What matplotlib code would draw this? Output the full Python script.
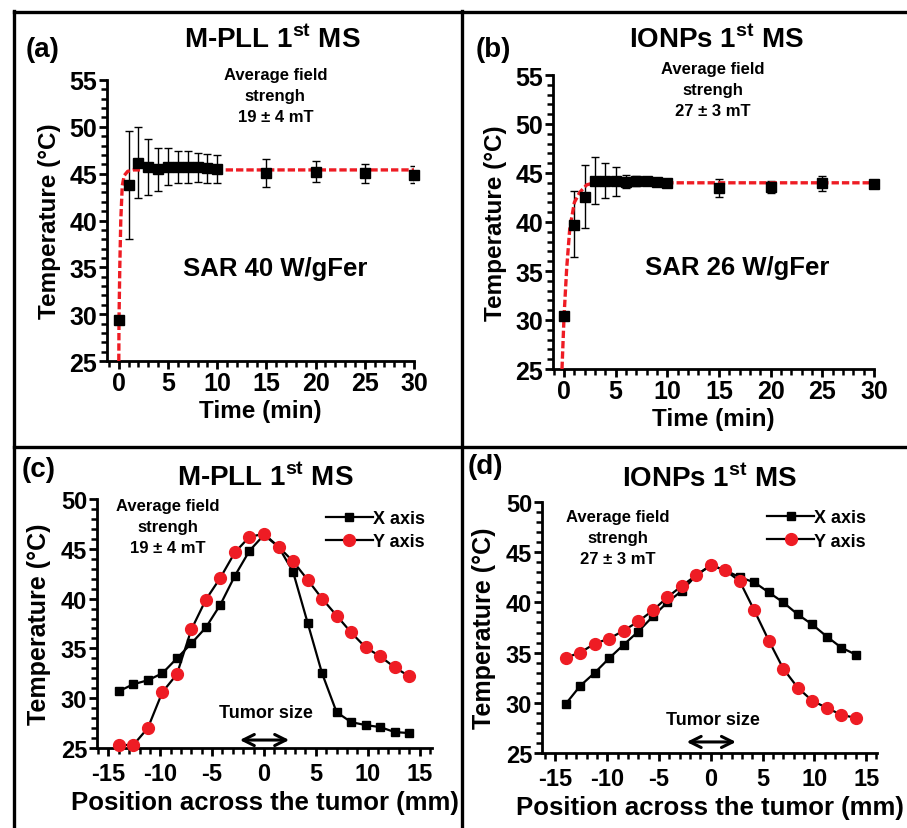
import matplotlib
matplotlib.use("Agg")
import matplotlib.pyplot as plt
from matplotlib.lines import Line2D
from matplotlib.ticker import MultipleLocator

plt.rcParams['font.family'] = ['Liberation Sans', 'DejaVu Sans']
plt.rcParams['font.weight'] = 'bold'
plt.rcParams['axes.unicode_minus'] = False
plt.rcParams['mathtext.fontset'] = 'custom'
plt.rcParams['mathtext.rm'] = 'Liberation Sans:bold'
plt.rcParams['mathtext.bf'] = 'Liberation Sans:bold'

# ---- data ----
time_min = [0, 1, 2, 3, 4, 5, 6, 7, 8, 9, 10, 15, 20, 25, 30]

mpll_temp = [29.4, 43.8, 46.1, 45.7, 45.45, 45.7, 45.7, 45.7, 45.7, 45.6, 45.5, 45.1, 45.2, 45.1, 44.9]
mpll_err_hi = [0.3, 5.8, 3.9, 3.0, 2.25, 2.0, 1.7, 1.7, 1.5, 1.5, 1.5, 1.5, 1.2, 0.9, 0.9]
mpll_err_lo = [0.3, 5.8, 3.7, 3.0, 2.35, 1.9, 1.7, 1.7, 1.6, 1.6, 1.5, 1.5, 1.1, 1.1, 0.9]
mpll_fit_t = [0.0, 0.02, 0.1, 0.2, 0.35, 0.55, 0.9, 1.5, 30]
mpll_fit_T = [25.0, 29.4, 35.0, 40.0, 43.7, 44.8, 45.25, 45.4, 45.4]

ionp_temp = [30.4, 39.7, 42.6, 44.2, 44.2, 44.2, 44.1, 44.2, 44.2, 44.1, 44.0, 43.5, 43.6, 44.0, 43.9]
ionp_err_hi = [0.3, 3.5, 3.2, 2.4, 1.8, 1.4, 0.7, 0.5, 0.4, 0.3, 0.3, 0.9, 0.6, 0.7, 0.3]
ionp_err_lo = [0.3, 3.3, 3.25, 2.4, 1.75, 1.5, 0.6, 0.5, 0.4, 0.3, 0.3, 0.9, 0.6, 0.8, 0.3]
ionp_fit_t = [-0.2, 0.0, 0.25, 0.55, 1.0, 1.5, 2.2, 3.0, 30]
ionp_fit_T = [25.0, 30.4, 35.2, 39.3, 42.0, 43.0, 43.8, 44.0, 44.0]

position_mm = [-14, -12.6, -11.2, -9.8, -8.4, -7.0, -5.6, -4.2, -2.8, -1.4, 0,
               1.4, 2.8, 4.2, 5.6, 7.0, 8.4, 9.8, 11.2, 12.6, 14]

mpll_x_axis = [30.7, 31.4, 31.8, 32.5, 34.0, 35.5, 37.1, 39.4, 42.3, 44.8, 46.4,
               45.2, 42.7, 37.6, 32.5, 28.6, 27.6, 27.3, 27.1, 26.6, 26.5]
mpll_y_axis = [25.3, 25.3, 27.0, 30.6, 32.4, 36.9, 39.9, 42.1, 44.65, 46.2, 46.5,
               45.2, 43.75, 41.9, 40.0, 38.3, 36.6, 35.1, 34.2, 33.1, 32.2]

ionp_x_axis = [29.9, 31.7, 33.0, 34.45, 35.8, 37.1, 38.6, 40.0, 41.15, 42.7, 43.7,
               43.2, 42.5, 42.0, 41.0, 40.0, 38.8, 37.8, 36.6, 35.5, 34.8]
ionp_y_axis = [34.5, 35.0, 35.9, 36.4, 37.2, 38.1, 39.2, 40.5, 41.65, 42.7, 43.7,
               43.2, 42.1, 39.2, 36.2, 33.4, 31.5, 30.2, 29.5, 28.8, 28.5]

W, H = 907, 829
fig = plt.figure(figsize=(W / 100, H / 100), dpi=100)
fig.patch.set_facecolor('white')


def px_axes(x0, y0, x1, y1):
    # pixel box (left, top, right, bottom) -> axes
    return fig.add_axes([x0 / W, 1 - y1 / H, (x1 - x0) / W, (y1 - y0) / H])


def style_axes(ax, tick_fs, xpad):
    for s in ['top', 'right']:
        ax.spines[s].set_visible(False)
    for s in ['left', 'bottom']:
        ax.spines[s].set_linewidth(2.0)
    ax.tick_params(which='major', direction='out', length=6, width=2.0,
                   labelsize=tick_fs, pad=1)
    ax.tick_params(axis='x', which='major', pad=xpad)
    ax.tick_params(which='minor', direction='out', length=4.5, width=1.8)
    ax.yaxis.set_major_locator(MultipleLocator(5))
    ax.yaxis.set_minor_locator(MultipleLocator(1))
    ax.xaxis.set_major_locator(MultipleLocator(5))
    ax.xaxis.set_minor_locator(MultipleLocator(1))
    for lab in ax.get_xticklabels() + ax.get_yticklabels():
        lab.set_fontweight('bold')


RED = '#ee1c24'


def heating_panel(box, temp, lo, hi, fit_t, fit_T, xmin, field, sar, fx, sx, sy):
    ax = px_axes(*box)
    ax.errorbar(time_min, temp, yerr=[lo, hi], fmt='none', ecolor='black',
                elinewidth=1.0, capsize=3, capthick=1.0, zorder=2)
    ax.plot(fit_t, fit_T, color=RED, lw=2.4, ls=(0, (2.2, 0.9)), zorder=3)
    ax.plot(time_min, temp, 's', color='black', ms=7.5, zorder=4, clip_on=False)
    ax.set_xlim(xmin, 30)
    ax.set_ylim(25, 55)
    style_axes(ax, 18, 1)
    ax.set_xlabel('Time (min)', fontsize=17.5, fontweight='bold', labelpad=3)
    ax.set_ylabel('Temperature (°C)', fontsize=17.5, fontweight='bold', labelpad=6)
    ax.text(fx, 56.4, field, ha='center', va='top', fontsize=12,
            fontweight='bold', linespacing=1.5, clip_on=False)
    ax.text(sx, sy, sar, ha='center', va='center', fontsize=18.5,
            fontweight='bold')
    return ax


def profile_panel(box, xlim, xs, ys, field, fx, fy, leg_anchor):
    ax = px_axes(*box)
    ax.plot(position_mm, xs, '-s', color='black', lw=1.6, ms=6,
            label='X axis', zorder=3, clip_on=False)
    ax.plot(position_mm, ys, '-o', color='black', lw=1.6, ms=8.5,
            mfc=RED, mec=RED, label='Y axis', zorder=4, clip_on=False)
    ax.set_xlim(*xlim)
    ax.set_ylim(25, 50)
    style_axes(ax, 17, 4)
    ax.set_xticks([-15, -10, -5, 0, 5, 10, 15])
    ax.set_xlabel('Position across the tumor (mm)', fontsize=18.5,
                  fontweight='bold', labelpad=4)
    ax.set_ylabel('Temperature (°C)', fontsize=18, fontweight='bold', labelpad=7)
    ax.text(fx, fy, field, ha='center', va='top', fontsize=12,
            fontweight='bold', linespacing=1.5)
    leg = ax.legend(loc='upper right', bbox_to_anchor=leg_anchor, frameon=False,
                    fontsize=13, handlelength=2.6, handletextpad=0.0,
                    labelspacing=0.35, borderaxespad=0)
    for t in leg.get_texts():
        t.set_fontweight('bold')
    return ax


ax_a = heating_panel((107, 81, 414, 362), mpll_temp, mpll_err_lo, mpll_err_hi,
                     mpll_fit_t, mpll_fit_T, -1.2,
                     'Average field\nstrengh\n19 ± 4 mT', 'SAR 40 W/gFer',
                     15.9, 15.9, 34.9)
ax_b = heating_panel((553, 76, 874, 370), ionp_temp, ionp_err_lo, ionp_err_hi,
                     ionp_fit_t, ionp_fit_T, -1.07,
                     'Average field\nstrengh\n27 ± 3 mT', 'SAR 26 W/gFer',
                     14.4, 16.8, 35.4)

ax_c = profile_panel((97, 500, 432, 749), (-16.1, 16.2),
                     mpll_x_axis, mpll_y_axis,
                     'Average field\nstrengh\n19 ± 4 mT', -9.3, 50.1, (1.0, 0.985))
ax_d = profile_panel((542, 503, 877, 754), (-16.3, 16.05),
                     ionp_x_axis, ionp_y_axis,
                     'Average field\nstrengh\n27 ± 3 mT', -9.0, 49.3, (0.99, 1.0))

# tumor size arrows
for ax, ya, yt in [(ax_c, 25.8, 28.6), (ax_d, 26.1, 28.3)]:
    ax.annotate('', xy=(-2.6, ya), xytext=(2.7, ya),
                arrowprops=dict(arrowstyle='<->', lw=2.2, color='black',
                                mutation_scale=20))
    ax.text(0.2, yt, 'Tumor size', ha='center', va='center', fontsize=13,
            fontweight='bold')

# panel letters and titles
titles = [('(a)', 26, 50, 'M-PLL 1$^{\\mathbf{st}}$ MS', 272, 40),
          ('(b)', 476, 50, 'IONPs 1$^{\\mathbf{st}}$ MS', 717, 40),
          ('(c)', 22, 470, 'M-PLL 1$^{\\mathbf{st}}$ MS', 265, 478),
          ('(d)', 468, 467, 'IONPs 1$^{\\mathbf{st}}$ MS', 710, 479)]
for lab, lx, ly, title, tx, ty in titles:
    fig.text(lx / W, 1 - ly / H, lab, ha='left', va='center', fontsize=20,
             fontweight='bold')
    fig.text(tx / W, 1 - ty / H, title, ha='center', va='center', fontsize=20,
             fontweight='bold')

# frame lines around the panels
frame = [((14, 907), (13, 13)), ((14, 14), (12, 829)), ((462, 462), (12, 829)),
         ((14, 907), (448, 448))]
for xs, ys in frame:
    fig.add_artist(Line2D([x / W for x in xs], [1 - y / H for y in ys],
                          color='black', lw=2.4))

fig.savefig('out.png', dpi=100)
